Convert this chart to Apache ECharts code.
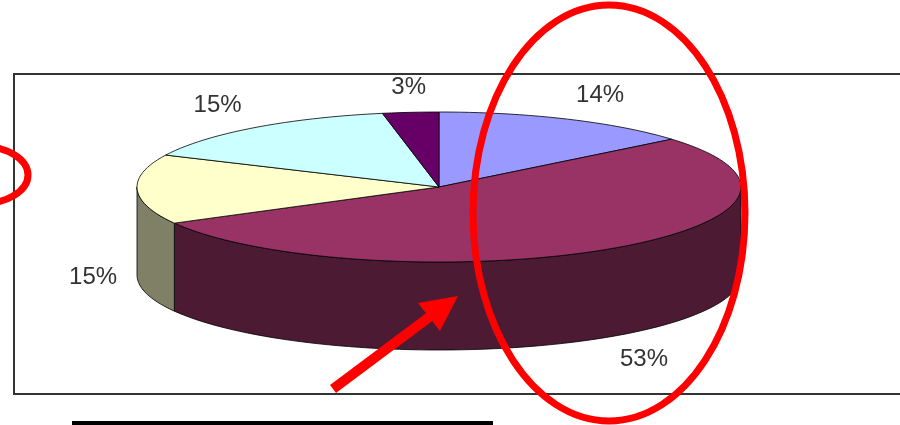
<!DOCTYPE html>
<html>
<head>
<meta charset="utf-8">
<script src="https://cdn.jsdelivr.net/npm/echarts@6/dist/echarts.min.js"></script>
<style>
  html, body { margin: 0; padding: 0; background: #fff; }
  #main { width: 900px; height: 425px; }
</style>
</head>
<body>
<div id="main"></div>
<script>
var values = [14, 53, 15, 15, 3];
var labels = ['14%', '53%', '15%', '15%', '3%'];
var colors = ['#9999FF', '#993366', '#FFFFCC', '#CCFFFF', '#660066'];

// geometry of the tilted pie
var cx = 439, cy = 187, rx = 302, ry = 75, depth = 88;

var total = 0;
for (var i = 0; i < values.length; i++) total += values[i];
var startAngles = [];
var acc = 0;
for (var i = 0; i < values.length; i++) {
  startAngles.push(90 - acc / total * 360);
  acc += values[i];
}

function pt(deg, dy) {
  var r = deg * Math.PI / 180;
  return [cx + rx * Math.cos(r), cy - ry * Math.sin(r) + (dy || 0)];
}
function arc(a1, a2, dy) {
  var pts = [];
  var n = Math.max(2, Math.ceil((a1 - a2) / 2));
  for (var k = 0; k <= n; k++) pts.push(pt(a1 - (a1 - a2) * k / n, dy));
  return pts;
}
function shade(hex, f) {
  var n = parseInt(hex.slice(1), 16);
  var r = Math.round(((n >> 16) & 255) * f), g = Math.round(((n >> 8) & 255) * f), b = Math.round((n & 255) * f);
  return 'rgb(' + r + ',' + g + ',' + b + ')';
}

function renderSlice(params, api) {
  var i = params.dataIndex;
  var a1 = startAngles[i];
  var a2 = a1 - api.value(0) / total * 360;
  var children = [];
  // front wall
  var s = Math.min(a1, 0), e = Math.max(a2, -180);
  if (s > e) {
    var wall = arc(s, e, 0).concat(arc(s, e, depth).reverse());
    children.push({
      type: 'polygon',
      shape: { points: wall },
      style: { fill: shade(colors[i], 0.5), stroke: '#000', lineWidth: 0.8 }
    });
  }
  children.push({
    type: 'polygon',
    shape: { points: [[cx, cy]].concat(arc(a1, a2, 0)) },
    style: { fill: colors[i], stroke: '#000', lineWidth: 0.8 }
  });
  // label outside the slice
  var mid = (a1 + a2) / 2 * Math.PI / 180;
  var c = Math.cos(mid), sn = Math.sin(mid);
  var lx = cx + (rx + 20) * c;
  var ly = cy - (ry + 13) * sn + (sn < 0 ? depth : 0);
  children.push({
    type: 'text',
    style: {
      x: lx, y: ly, text: labels[i],
      fill: '#333', font: '24px "Liberation Sans", Arial, sans-serif',
      align: c > 0.3 ? 'left' : (c < -0.3 ? 'right' : 'center'),
      verticalAlign: sn > 0.3 ? 'bottom' : (sn < -0.3 ? 'top' : 'middle')
    }
  });
  return { type: 'group', children: children };
}

var myChart = echarts.init(document.getElementById('main'));
var option = {
  animation: false,
  series: [{
    type: 'custom',
    coordinateSystem: 'none',
    renderItem: renderSlice,
    data: values.map(function (v) { return [v]; }),
    z: 2
  }],
  graphic: [
    { type: 'rect', z: 1, shape: { x: 14, y: 74, width: 900, height: 320 },
      style: { fill: '#fff', stroke: '#333', lineWidth: 2 } },
    { type: 'rect', z: 10, shape: { x: 72, y: 421, width: 421, height: 6 },
      style: { fill: '#000' } },
    // red annotations
    { type: 'ellipse', z: 10, shape: { cx: 609, cy: 213, rx: 136, ry: 208 },
      style: { fill: 'none', stroke: '#ff0000', lineWidth: 7 } },
    { type: 'ellipse', z: 10, shape: { cx: -20, cy: 175, rx: 48, ry: 29 },
      style: { fill: 'none', stroke: '#ff0000', lineWidth: 7 } },
    { type: 'line', z: 10, shape: { x1: 333, y1: 389, x2: 432, y2: 315 },
      style: { stroke: '#ff0000', lineWidth: 10 } },
    { type: 'polygon', z: 10, shape: { points: [[458, 296], [418, 303], [440, 331]] },
      style: { fill: '#ff0000' } }
  ]
};
myChart.setOption(option);
</script>
</body>
</html>
